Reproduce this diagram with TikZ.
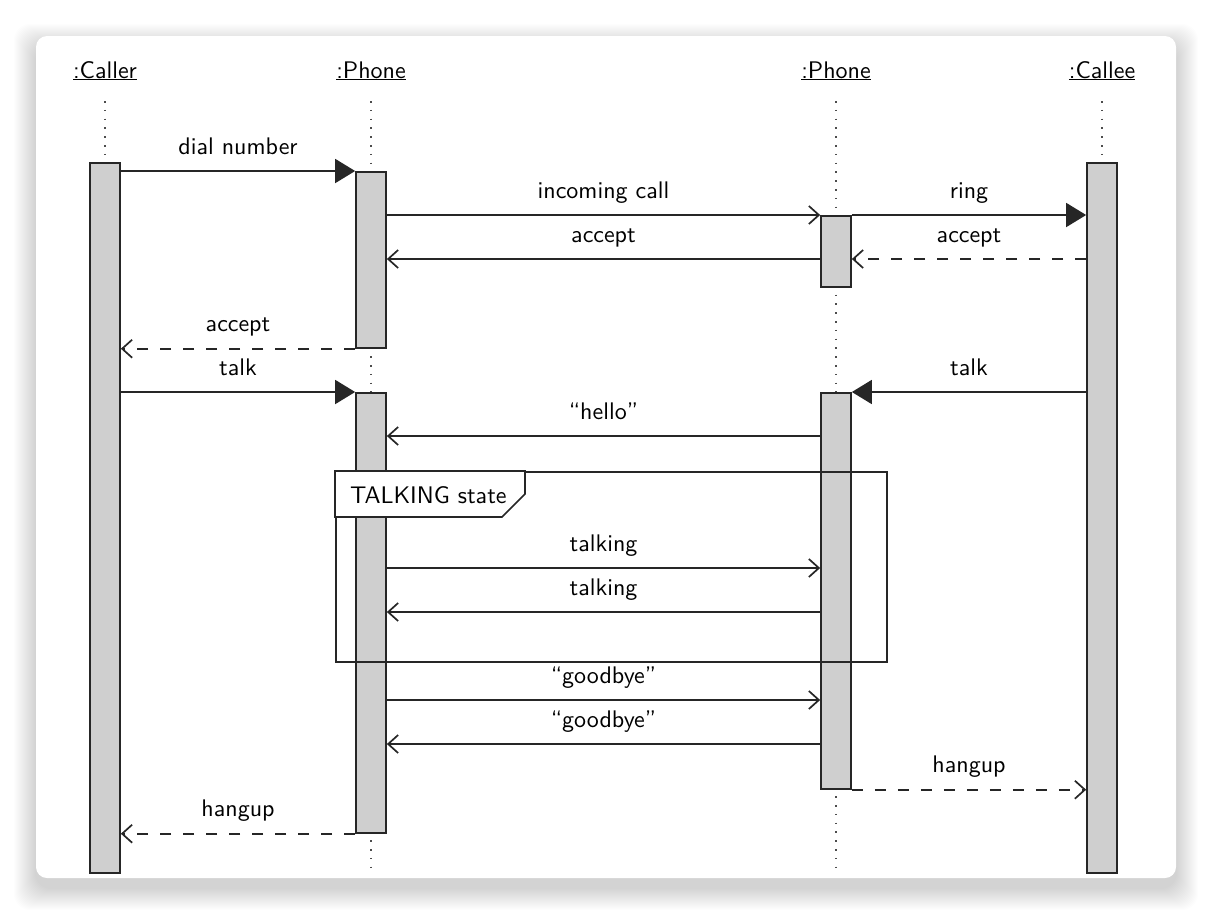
\documentclass[tikz,border=0pt]{standalone}
\usepackage{fontspec}
\setsansfont{lmsans10-regular.otf}
\usetikzlibrary{arrows.meta,calc}
\begin{document}
\begin{tikzpicture}[x=1pt,y=-1pt,
  font=\sffamily\fontsize{24}{29}\selectfont,
  act/.style={draw=black!85, line width=1.7pt, fill=black!19, minimum width=30pt, inner sep=0pt, anchor=north},
  life/.style={line width=1.6pt, dash pattern=on 1.6pt off 7.2pt, black!70},
  msg/.style={line width=1.7pt, draw=black!85},
  sync/.style={msg, -{Triangle[length=20pt,width=24pt]}},
  async/.style={msg, -{Straight Barb[length=10pt,width=18pt,line width=1.7pt]}},
  reply/.style={async, dash pattern=on 11.5pt off 11.5pt},
  lbl/.style={anchor=base, yshift=17pt, inner sep=0pt, text=black},
  head/.style={anchor=base, inner sep=0pt},
  frm/.style={draw=black!85, line width=1.7pt}
]
\useasboundingbox (0,0) rectangle (1212,914);
\fill[white] (0,0) rectangle (1212,914);
% card shadow
\foreach \i in {1,...,22}
  \fill[black, opacity=0.009, rounded corners=16pt] (36-\i,36-\i+10) rectangle (1176+\i,878+\i+10);
\fill[white, rounded corners=11pt] (36,36) rectangle (1176,878);

% headers
\node[head] (hCaller) at (105,78) {\underline{:Caller}};
\node[head] (hPhoneA) at (371,78) {\underline{:Phone}};
\node[head] (hPhoneB) at (836,78) {\underline{:Phone}};
\node[head] (hCallee) at (1102,78) {\underline{:Callee}};

% lifelines
\coordinate (eCaller) at (105,875);
\coordinate (ePhoneA) at (371,875);
\coordinate (ePhoneB) at (836,875);
\coordinate (eCallee) at (1102,875);
\draw[life] ($(hCaller.base)+(0,23)$) -- (eCaller);
\draw[life] ($(hPhoneA.base)+(0,23)$) -- (ePhoneA);
\draw[life] ($(hPhoneB.base)+(0,23)$) -- (ePhoneB);
\draw[life] ($(hCallee.base)+(0,23)$) -- (eCallee);

% activations
\node[act, minimum height=710pt] (ca)  at (105,162) {};
\node[act, minimum height=710pt] (ce)  at (1102,162) {};
\node[act, minimum height=176pt] (pa1) at (371,171) {};
\node[act, minimum height=71pt]  (pb1) at (836,215) {};
\node[act, minimum height=440pt] (pa2) at (371,392) {};
\node[act, minimum height=396pt] (pb2) at (836,392) {};

% rows
\coordinate (r1) at (0,259);
\coordinate (r2) at (0,436);
\coordinate (r3) at (0,568);
\coordinate (r4) at (0,612);
\coordinate (r5) at (0,700);
\coordinate (r6) at (0,744);

% messages
\draw[sync] (ca.east |- pa1.north) -- (pa1.north west) node[lbl, midway] {dial number};
\draw[async] (pa1.east |- pb1.north) -- (pb1.north west) node[lbl, midway] {incoming call};
\draw[sync] (pb1.north east) -- (ce.west |- pb1.north) node[lbl, midway] {ring};
\draw[async] (pb1.west |- r1) -- (pa1.east |- r1) node[lbl, midway] {accept};
\draw[reply] (ce.west |- r1) -- (pb1.east |- r1) node[lbl, midway] {accept};
\draw[reply] (pa1.south west) -- (ca.east |- pa1.south) node[lbl, midway] {accept};
\draw[sync] (ca.east |- pa2.north) -- (pa2.north west) node[lbl, midway] {talk};
\draw[sync] (ce.west |- pb2.north) -- (pb2.north east) node[lbl, midway] {talk};
\draw[async] (pb2.west |- r2) -- (pa2.east |- r2) node[lbl, midway] {“hello”};
\draw[async] (pa2.east |- r3) -- (pb2.west |- r3) node[lbl, midway] {talking};
\draw[async] (pb2.west |- r4) -- (pa2.east |- r4) node[lbl, midway] {talking};
\draw[async] (pa2.east |- r5) -- (pb2.west |- r5) node[lbl, midway] {“goodbye”};
\draw[async] (pb2.west |- r6) -- (pa2.east |- r6) node[lbl, midway] {“goodbye”};
\draw[reply] (pb2.south east) -- (ce.west |- pb2.south) node[lbl, midway] {hangup};
\draw[reply] (pa2.south west) -- (ca.east |- pa2.south) node[lbl, midway] {hangup};

% frame
\node[frm, minimum width=551pt, minimum height=190pt, inner sep=0pt, anchor=north west] (frame) at (335,471) {};
\draw[frm, fill=white] (frame.north west) -- ++(190,0) -- ++(0,23) -- ++(-23,23) -- ($(frame.north west)+(0,46)$) -- cycle;
\node[anchor=base west, inner sep=0pt] (ftitle) at (350,503) {TALKING state};
\end{tikzpicture}
\end{document}
